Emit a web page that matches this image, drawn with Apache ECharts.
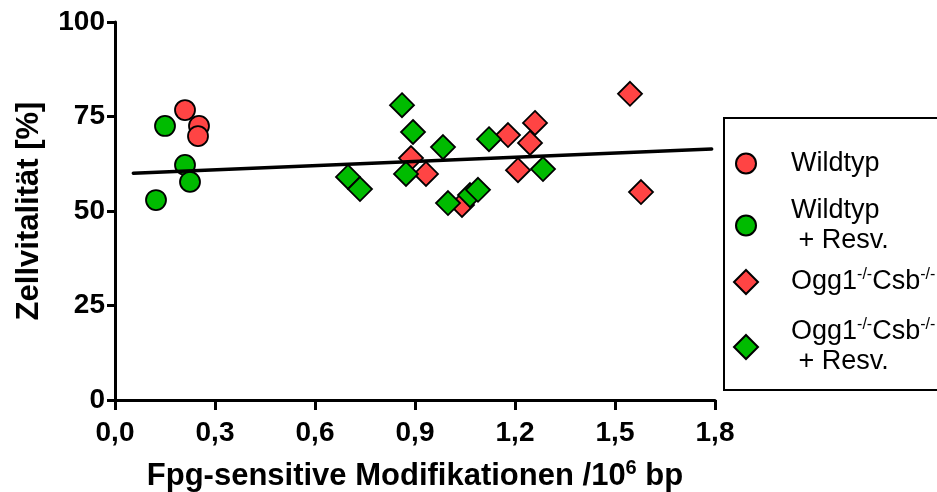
<!DOCTYPE html>
<html>
<head>
<meta charset="utf-8">
<script src="https://cdn.jsdelivr.net/npm/echarts@6/dist/echarts.min.js"></script>
<style>
html,body{margin:0;padding:0;background:#fff;}
#c{width:937px;height:492px;}
</style>
</head>
<body>
<div id="c"></div>
<script>
// ---- data ----
const xTicks = [0, 0.3, 0.6, 0.9, 1.2, 1.5, 1.8];
const yTicks = [0, 25, 50, 75, 100];
const wildtyp = [[0.21, 76.7], [0.252, 72.5], [0.249, 69.8]];
const wildtypResv = [[0.15, 72.5], [0.21, 62.2], [0.225, 57.7], [0.123, 52.9]];
const ogg = [[0.888, 64.0], [0.933, 59.8], [1.041, 51.6], [1.179, 70.1], [1.26, 73.3],
             [1.245, 68.0], [1.209, 60.8], [1.545, 81.0], [1.578, 55.0]];
const oggResv = [[0.861, 78.0], [0.894, 70.9], [0.984, 66.9], [1.122, 69.0], [0.699, 59.0],
                 [0.735, 55.8], [0.873, 59.8], [0.999, 52.1], [1.065, 54.2], [1.089, 55.6], [1.284, 61.1]];
const regression = [[0.055, 60.0], [1.79, 66.4]];
const names = ['Wildtyp', 'Wildtyp + Resv.', 'Ogg1-/-Csb-/-', 'Ogg1-/-Csb-/- + Resv.'];

const RED = '#ff4444', GREEN = '#00bb00';
const FONT = "'Liberation Sans', Arial, Helvetica, sans-serif";

function legendFmt(name) {
  if (name === 'Wildtyp') return '{t|Wildtyp}';
  if (name === 'Wildtyp + Resv.') return '{t|Wildtyp}\n{t| + Resv.}';
  if (name === 'Ogg1-/-Csb-/-') return '{t|Ogg1}{s|-/-}{t|Csb}{s|-/-}';
  return '{t|Ogg1}{s|-/-}{t|Csb}{s|-/-}\n{t| + Resv.}';
}
const legendRich = {
  t: {fontSize: 27, lineHeight: 30, color: '#000', fontFamily: FONT},
  s: {fontSize: 16, lineHeight: 16, color: '#000', fontFamily: FONT, verticalAlign: 'top'}
};
function mkLegend(name, left, top, size, pad) {
  return {
    data: [name], orient: 'vertical', left: left, top: top, padding: 0,
    itemWidth: size, itemHeight: size, selectedMode: false,
    formatter: legendFmt,
    textStyle: {rich: legendRich, padding: [0, 0, 0, pad], fontFamily: FONT}
  };
}

const chart = echarts.init(document.getElementById('c'), null, {renderer: 'canvas'});
const markStyle = {borderColor: '#000', borderWidth: 1.8, opacity: 1};

chart.setOption({
  animation: false,
  backgroundColor: '#fff',
  grid: {left: 115, right: 222, top: 22, bottom: 92, containLabel: false, outerBoundsMode: 'none'},
  graphic: [{
    type: 'rect', shape: {x: 724, y: 118, width: 260, height: 272},
    style: {fill: 'none', stroke: '#000', lineWidth: 2}, z: 100
  }],
  legend: [
    mkLegend(names[0], 735, 150, 20, 30),
    mkLegend(names[1], 735, 197, 20, 30),
    mkLegend(names[2], 733, 267, 24, 28),
    mkLegend(names[3], 733, 317, 24, 28)
  ],
  xAxis: {
    type: 'value', min: 0, max: 1.8, interval: 0.3,
    name: '{b|Fpg-sensitive Modifikationen /10}{sup|6}{b| bp}',
    nameLocation: 'middle', nameGap: 58,
    nameTextStyle: {
      rich: {
        b: {fontSize: 31, fontWeight: 'bold', color: '#000', fontFamily: FONT, lineHeight: 36},
        sup: {fontSize: 20, fontWeight: 'bold', color: '#000', fontFamily: FONT, lineHeight: 20, verticalAlign: 'top'}
      }
    },
    axisLine: {show: true, lineStyle: {color: '#000', width: 3}},
    axisTick: {show: true, length: 10, lineStyle: {color: '#000', width: 3}},
    axisLabel: {
      fontSize: 28, fontWeight: 'bold', color: '#000', fontFamily: FONT, margin: 19,
      formatter: v => v.toFixed(1).replace('.', ',')
    },
    splitLine: {show: false}
  },
  yAxis: {
    type: 'value', min: 0, max: 100, interval: 25,
    name: 'Zellvitalität [%]', nameLocation: 'middle', nameGap: 70, nameRotate: 90,
    nameTextStyle: {fontSize: 31, fontWeight: 'bold', color: '#000', fontFamily: FONT},
    axisLine: {show: true, lineStyle: {color: '#000', width: 3}},
    axisTick: {show: true, length: 8, lineStyle: {color: '#000', width: 3}},
    axisLabel: {fontSize: 28, fontWeight: 'bold', color: '#000', fontFamily: FONT, margin: 10},
    splitLine: {show: false}
  },
  series: [
    {name: names[0], type: 'scatter', data: wildtyp, symbol: 'circle', symbolSize: 20,
     itemStyle: Object.assign({color: RED}, markStyle), z: 3},
    {name: names[1], type: 'scatter', data: wildtypResv, symbol: 'circle', symbolSize: 20,
     itemStyle: Object.assign({color: GREEN}, markStyle), z: 3},
    {name: names[2], type: 'scatter', data: ogg, symbol: 'diamond', symbolSize: 24,
     itemStyle: Object.assign({color: RED}, markStyle), z: 3},
    {name: names[3], type: 'scatter', data: oggResv, symbol: 'diamond', symbolSize: 24,
     itemStyle: Object.assign({color: GREEN}, markStyle), z: 3},
    {name: 'fit', type: 'line', data: regression, symbol: 'none', silent: true,
     lineStyle: {color: '#000', width: 3.5, cap: 'round'}, z: 5}
  ]
});
</script>
</body>
</html>
